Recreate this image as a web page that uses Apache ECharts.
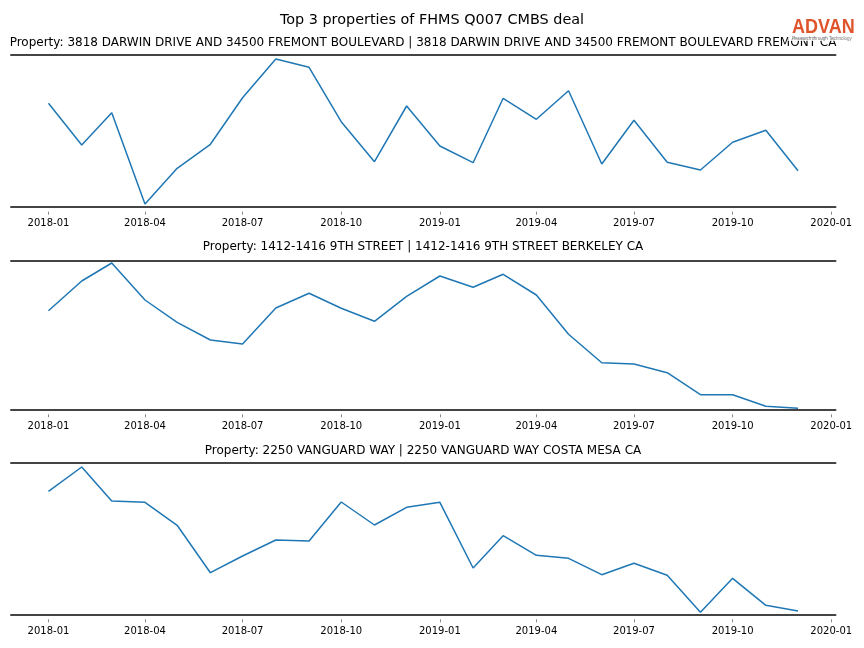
<!DOCTYPE html>
<html>
<head>
<meta charset="utf-8">
<script src="https://cdn.jsdelivr.net/npm/echarts@6/dist/echarts.min.js"></script>
<style>html,body{margin:0;padding:0;background:#fff;}#c{width:864px;height:648px;}</style>
</head>
<body>
<div id="c"></div>
<script>
// Monthly data (relative units; the y axis has no labels)
var months = ['2018-01','2018-02','2018-03','2018-04','2018-05','2018-06','2018-07','2018-08','2018-09','2018-10','2018-11','2018-12',
              '2019-01','2019-02','2019-03','2019-04','2019-05','2019-06','2019-07','2019-08','2019-09','2019-10','2019-11','2019-12'];
var darwin   = [103.4,61.7,94,2.7,38.4,62.4,109,147.7,139.4,85,45,100.7,60.7,44,108.4,87.4,116,42.7,86.4,44.4,36.7,64.4,76.4,36];
var berkeley = [98.6,128.3,146.3,109.3,87,69.3,65.3,101.3,116,101,88,113,133.3,122,135,114.3,75,46.6,45.3,36.6,14.6,14.6,3,1];
var vanguard = [123,147.3,113.3,112,89,41.6,58.3,74.3,73.3,112.3,89.3,107,112,46.3,78.6,59,56,39.6,51,39,2,36,9,3.3];
var yMax = [152.4, 148.6, 151.6];
var tickLabels = ['2018-01','2018-04','2018-07','2018-10','2019-01','2019-04','2019-07','2019-10','2020-01'];
var mainTitle = 'Top 3 properties of FHMS Q007 CMBS deal';
var panelTitles = [
  'Property: 3818 DARWIN DRIVE AND 34500 FREMONT BOULEVARD | 3818 DARWIN DRIVE AND 34500 FREMONT BOULEVARD FREMONT CA',
  'Property: 1412-1416 9TH STREET | 1412-1416 9TH STREET BERKELEY CA',
  'Property: 2250 VANGUARD WAY | 2250 VANGUARD WAY COSTA MESA CA'
];
var seriesData = [darwin, berkeley, vanguard];

function ts(s){ var p = s.split('-'); return Date.UTC(+p[0], +p[1]-1, 1); }
var first = ts(months[0]), last = ts(months[months.length-1]);
var pad = (last - first) * 0.05;
var xMin = first - pad, xMax = last + pad;
var tickVals = tickLabels.map(ts);
function fmt(v){ var d = new Date(v); var m = d.getUTCMonth()+1; return d.getUTCFullYear() + '-' + (m<10?'0':'') + m; }

var font = 'DejaVu Sans';
var gridTops = [54.3, 260.7, 462.7];
var grids = [], xAxes = [], yAxes = [], series = [], titles = [];
titles.push({text: mainTitle, left: 'center', top: 8, textStyle:{fontFamily: font, fontSize: 14.4, fontWeight: 'normal', color: '#000'}});
var titleTops = [32, 236, 440];
for (var i = 0; i < 3; i++) {
  grids.push({left: 11, right: 28.5, top: gridTops[i], height: yMax[i], containLabel: false});
  titles.push({text: panelTitles[i], left: 418, textAlign: 'center', top: titleTops[i], textStyle:{fontFamily: font, fontSize: 12, fontWeight: 'normal', color: '#000'}});
  // bottom spine
  xAxes.push({
    type: 'value', gridIndex: i, min: xMin, max: xMax, position: 'bottom', scale: true,
    axisLine: {show: true, onZero: false, lineStyle: {color: '#444', width: 2}},
    axisTick: {show: false}, axisLabel: {show: false}, splitLine: {show: false}
  });
  // top spine
  xAxes.push({
    type: 'value', gridIndex: i, min: xMin, max: xMax, position: 'top', scale: true,
    axisLine: {show: true, onZero: false, lineStyle: {color: '#444', width: 2}},
    axisTick: {show: false}, axisLabel: {show: false}, splitLine: {show: false}
  });
  // ticks and tick labels (slightly detached from the spine)
  xAxes.push({
    type: 'value', gridIndex: i, min: xMin, max: xMax, position: 'bottom', offset: 5, scale: true,
    axisLine: {show: false, onZero: false},
    axisTick: {show: true, customValues: tickVals, length: 3, lineStyle: {color: '#888', width: 1}},
    axisLabel: {show: true, customValues: tickVals, formatter: fmt, fontFamily: font, fontSize: 10, color: '#000', margin: 7, hideOverlap: false, showMinLabel: true, showMaxLabel: true},
    splitLine: {show: false}
  });
  yAxes.push({type: 'value', gridIndex: i, min: 0, max: yMax[i], show: false, splitLine: {show: false}});
  series.push({
    type: 'line', xAxisIndex: i*3, yAxisIndex: i, showSymbol: false, symbol: 'none',
    lineStyle: {color: '#1f77b4', width: 1.5}, itemStyle: {color: '#1f77b4'},
    data: months.map(function(m, k){ return [ts(m), seriesData[i][k]]; }),
    animation: false, z: 3
  });
}

var chart = echarts.init(document.getElementById('c'), null, {renderer: 'canvas'});
chart.setOption({
  animation: false,
  backgroundColor: '#fff',
  title: titles,
  grid: grids, xAxis: xAxes, yAxis: yAxes, series: series,
  graphic: [
    {type: 'rect', shape: {x: 788, y: 15, width: 74, height: 26}, style: {fill: 'rgba(255,255,255,0.8)'}, z: 100},
    {type: 'text', x: 792, y: 17, scaleY: 1.15, style: {text: 'ADVAN', fill: '#e0542c', font: 'bold 18px "Liberation Sans"'}, z: 101},
    {type: 'text', x: 792, y: 36, style: {text: 'Research through Technology', fill: '#777', font: '4.5px "Liberation Sans"'}, z: 101}
  ]
});
</script>
</body>
</html>
